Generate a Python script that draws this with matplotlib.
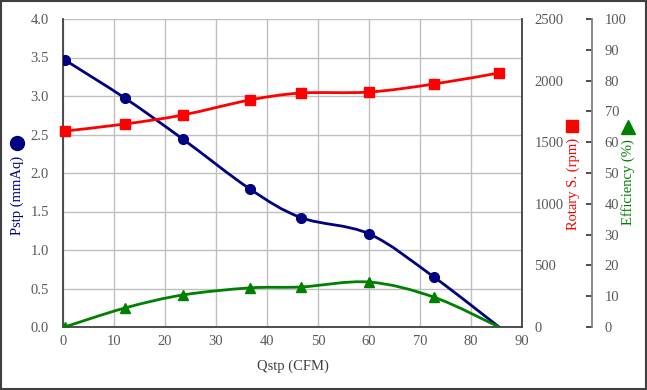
import matplotlib.pyplot as plt
from matplotlib.path import Path
from matplotlib.patches import PathPatch, Rectangle
from matplotlib.lines import Line2D

plt.rcParams['font.family'] = ['Liberation Serif', 'DejaVu Serif']
plt.rcParams['font.size'] = 10.5

# data
qstp = [0.3, 12.2, 23.5, 36.7, 46.7, 60.0, 72.7, 85.5]
pstp = [3.47, 2.97, 2.44, 1.79, 1.42, 1.21, 0.65, 0.0]
rpm = [1590, 1648, 1721, 1843, 1899, 1907, 1972, 2062]
eff = [0.0, 6.2, 10.4, 12.7, 13.0, 14.6, 9.7, 0.0]

navy = '#000080'
red = '#ff0000'
green = '#008000'
tick_col = '#595959'
spine_col = '#404040'


def smooth_path(xs, ys):
    # Excel-like smoothed line: Catmull-Rom segments as cubic Bezier curves
    pts = list(zip(xs, ys))
    verts = [pts[0]]
    codes = [Path.MOVETO]
    n = len(pts)
    for i in range(n - 1):
        p0 = pts[max(i - 1, 0)]
        p1 = pts[i]
        p2 = pts[i + 1]
        p3 = pts[min(i + 2, n - 1)]
        c1 = (p1[0] + (p2[0] - p0[0]) / 6, p1[1] + (p2[1] - p0[1]) / 6)
        c2 = (p2[0] - (p3[0] - p1[0]) / 6, p2[1] - (p3[1] - p1[1]) / 6)
        verts += [c1, c2, p2]
        codes += [Path.CURVE4] * 3
    return Path(verts, codes)


fig = plt.figure(figsize=(6.47, 3.90), dpi=100)
ax = fig.add_axes([63 / 647, 63 / 390, 459 / 647, 308 / 390])

ax.set_xlim(0, 90)
ax.set_ylim(0, 4.0)
ax.set_xticks(range(0, 91, 10))
ax.set_yticks([i * 0.5 for i in range(9)])
ax.set_yticklabels([f'{i * 0.5:.1f}' for i in range(9)])
ax.grid(True, color='#bfbfbf', lw=1)
ax.set_axisbelow(True)
ax.tick_params(length=0, colors=tick_col, labelsize=10.5)
ax.tick_params(axis='y', pad=10)
ax.tick_params(axis='x', pad=6)
for s in ['left', 'bottom', 'right']:
    ax.spines[s].set_color(spine_col)
    ax.spines[s].set_linewidth(1.3)
ax.spines['top'].set_visible(False)
ax.set_xlabel('Qstp (CFM)', color='#404040', labelpad=8)

ax2 = ax.twinx()
ax2.set_ylim(0, 2500)
ax2.set_yticks(range(0, 2501, 500))
ax2.tick_params(length=0, colors=tick_col, labelsize=10.5, pad=9)
for s in ax2.spines.values():
    s.set_visible(False)

ax3 = ax.twinx()
ax3.set_ylim(0, 100)
ax3.set_yticks(range(0, 101, 10))
ax3.spines['right'].set_position(('axes', (592 - 63) / 459))
ax3.spines['right'].set_color('#808080')
ax3.spines['right'].set_linewidth(1.3)
for s in ['left', 'top', 'bottom']:
    ax3.spines[s].set_visible(False)
ax3.tick_params(direction='in', length=4, width=1.3, color=spine_col,
                labelcolor=tick_col, labelsize=10.5, pad=9)

# last point (zero flow end) is drawn without a marker in the original
lw = 2.0
ax.add_patch(PathPatch(smooth_path(qstp, pstp), fc='none', ec=navy, lw=lw, zorder=3))
ax.plot(qstp[:-1], pstp[:-1], 'o', color=navy, ms=7, zorder=4)
ax2.add_patch(PathPatch(smooth_path(qstp, rpm), fc='none', ec=red, lw=lw, zorder=3))
ax2.plot(qstp, rpm, 's', color=red, ms=7, zorder=4, clip_on=False)
ax3.add_patch(PathPatch(smooth_path(qstp, eff), fc='none', ec=green, lw=lw, zorder=3))
ax3.plot(qstp[:-1], eff[:-1], '^', color=green, ms=7.5, zorder=4)

# axis titles with their marker symbols
fig.text(17 / 647, 0.60, 'Pstp (mmAq)', rotation=90, color=navy, ha='center', va='top')
fig.add_artist(Line2D([17 / 647], [0.634], marker='o', ms=10, color=navy, transform=fig.transFigure))
fig.text(573 / 647, 0.647, 'Rotary S. (rpm)', rotation=90, color=red, ha='center', va='top')
fig.add_artist(Line2D([572 / 647], [0.677], marker='s', ms=9, color=red, transform=fig.transFigure))
fig.text(628 / 647, 0.642, 'Efficiency (%)', rotation=90, color=green, ha='center', va='top')
fig.add_artist(Line2D([628 / 647], [0.674], marker='^', ms=10, color=green, transform=fig.transFigure))

fig.patches.append(Rectangle((0.001, 0.002), 0.997, 0.995, transform=fig.transFigure,
                             fill=False, ec='#404040', lw=1.5))

fig.savefig('out.png', dpi=100)
